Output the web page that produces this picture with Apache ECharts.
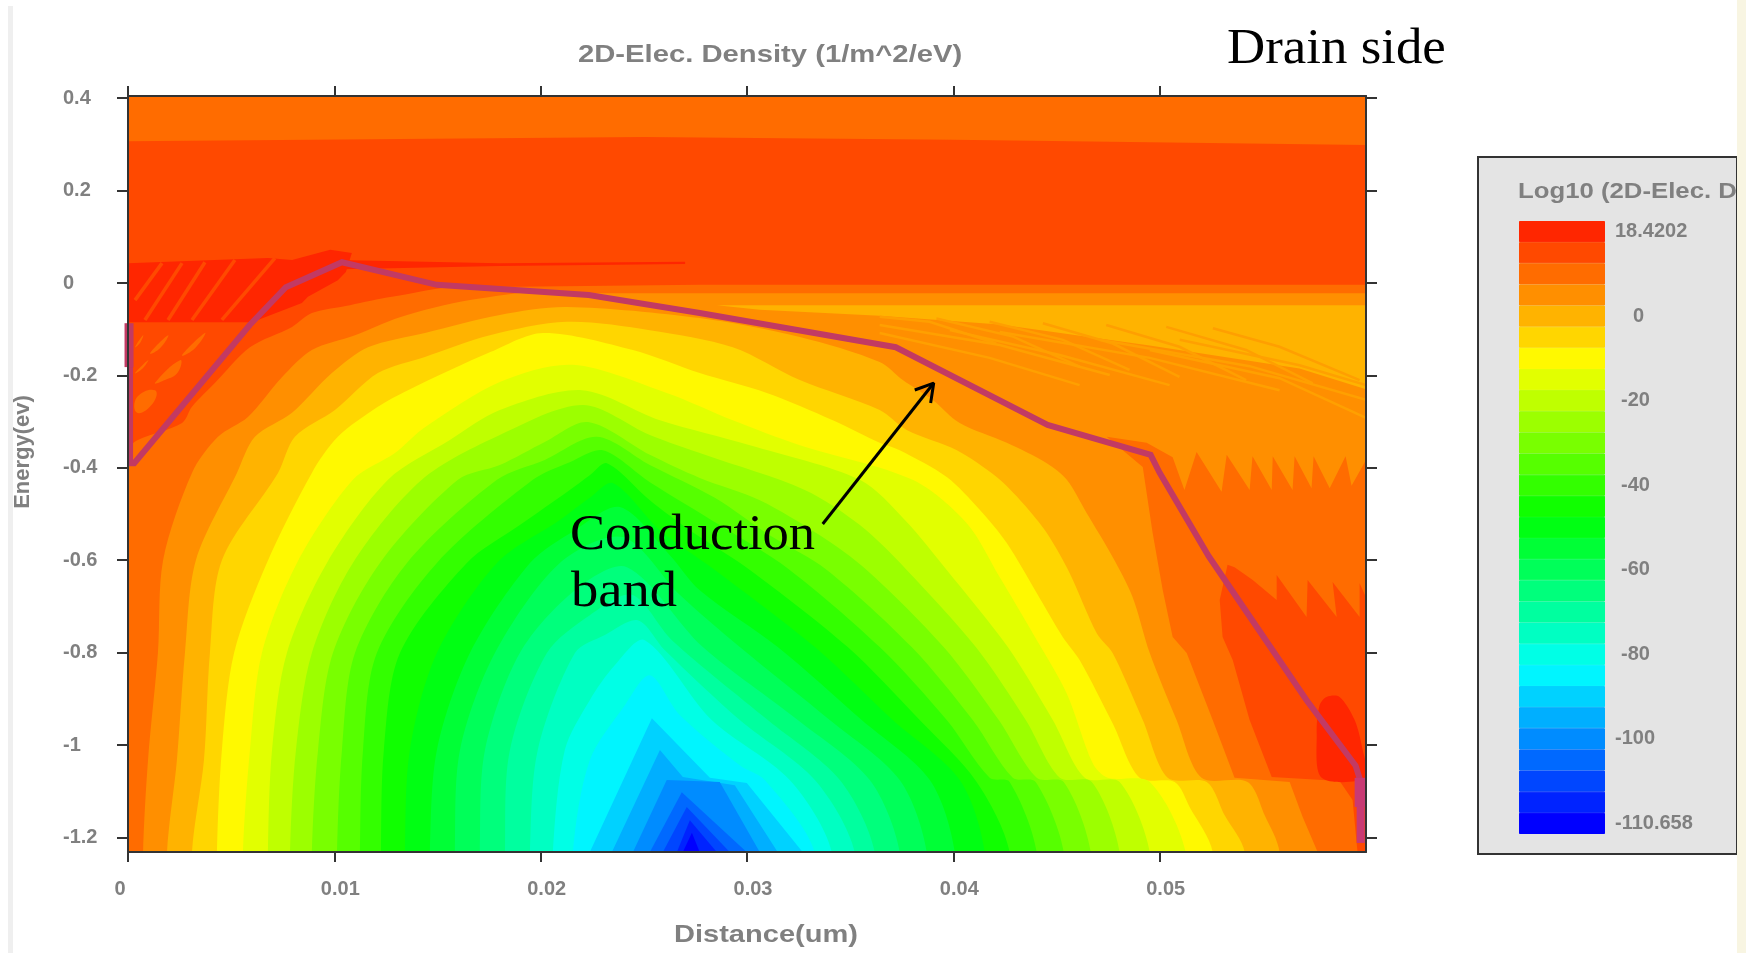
<!DOCTYPE html>
<html><head><meta charset="utf-8"><style>html,body{margin:0;padding:0;background:#fff}#c{width:1746px;height:953px}</style>
<script src="https://cdn.jsdelivr.net/npm/echarts@6/dist/echarts.min.js"></script></head><body><div id="c"></div>
<script>
const paletteColors=['#ff2600','#ff4900','#ff6c00','#ff8f00','#ffb300','#ffd600','#fff900','#e2ff00','#bfff00','#9cff00','#79ff00','#56ff00','#33ff00','#10ff00','#00ff13','#00ff36','#00ff59','#00ff7c','#00ff9f','#00ffc2','#00ffe6','#00f5ff','#00d2ff','#00afff','#008cff','#0069ff','#0046ff','#0023ff','#0000ff'];
const legendTickLabels=['18.4202','','','','0','','','','-20','','','','-40','','','','-60','','','','-80','','','','-100','','','','-110.658'];
const xTicks=[0,0.01,0.02,0.03,0.04,0.05];
const yTicks=[0.4,0.2,0,-0.2,-0.4,-0.6,-0.8,-1,-1.2];
// all points: [distance in nm, energy in eV]
const conductionBand=[[0.1,-.182],[0.1,-.39],[0.3,-.39],[5.9,-.091],[7.65,-.009],[10.37,.045],[14.97,-.004],[22.33,-.026],[27.71,-.065],[37.21,-.139],[44.57,-.307],[49.56,-.372],[50,-.411],[52.37,-.591],[57.12,-.903],[59.5,-1.045],[59.74,-1.08]];
const bandEndLeft=[[0.05,-.087],[0.05,-.182]];
const bandEndRight=[[59.74,-1.08],[59.74,-1.212]];
const bandEndRightWide=[[59.74,-1.071],[59.74,-1.134]];
const arrowShaft=[[33.67,-.5216],[39.05,-.2165]];
const arrowHead=[[38.13,-.2316],[39.05,-.2165],[38.9,-.2597]];
const plotArea=[[0,.4048],[60,.4048],[60,-1.2316],[0,-1.2316]];
const topStrip=[[0,.4048],[60,.4048],[60,.299],[40,.31],[25,.316],[0,.307]];
const level02Left=[[0,-1.45],[0,-.362],[.48,-.34],[2.62,-.303],[3.1,-.268],[4.22,-.216],[5.91,-.139],[7.95,-.095],[8.91,-.065],[10.76,-.048],[12.79,-.03],[16.57,-.009],[17.4,-.06],[17.4,-1.45]];
const level02Right=[[16.57,-1.232],[16.57,-.009],[27.71,-.004],[60,-.004],[60,-.68],[59.69,-.65],[59.69,-.723],[58.38,-.647],[58.58,-.723],[57.17,-.643],[57.12,-.723],[55.67,-.632],[55.67,-.686],[54.51,-.643],[53.63,-.615],[53.29,-.61],[52.91,-.686],[53.05,-.766],[53.54,-.816],[54.36,-.946],[55.43,-1.069],[58.72,-1.078],[59.35,-1.119],[59.59,-1.232]];
const redPatchLeft=[[0,-.085],[6.01,-.085],[8.43,-.043],[8.72,-.03],[10.17,.006],[10.56,.024],[10.85,.065],[9.8,.072],[7.95,.05],[6.78,.054],[0,.043]];
const redSliver=[[10.2,.05],[18,.043],[27,.046],[27,.041],[18,.037],[10.4,.03]];
const redPatchRight=[[57.85,-1.071],[57.61,-.974],[57.75,-.914],[58.09,-.896],[58.72,-.896],[59.45,-.946],[59.84,-1.011],[60,-1.071]];
const redStripes=[[[.34,-.037],[1.65,.043]],[[.82,-.08],[2.62,.043]],[[1.94,-.08],[3.73,.045]],[[3.1,-.08],[5.18,.05]],[[4.55,-.08],[7.12,.054]]];
const sourceBlobs=[[[.34,-.139],[.73,-.113],[.58,-.13]],[[1.07,-.152],[1.94,-.113],[1.55,-.141]],[[2.62,-.156],[3.73,-.108],[3.25,-.141]],[[.34,-.195],[.97,-.167],[.73,-.184]],[[1.31,-.216],[2.52,-.167],[2.42,-.193],[1.79,-.21]],[[.44,-.281],[.44,-.247],[1.31,-.232],[1.21,-.26]]];
const drainPatch=[[28.54,-.048],[60,-.048],[60,-.23],[56.78,-.185],[49.52,-.135],[42.25,-.09],[36.43,-.071],[30.62,-.058]];
const drainDarkStripes=[[[36.43,-.073],[38.85,-.084],[42.08,-.131]],[[39.18,-.077],[42.89,-.116],[46.12,-.181]],[[41.76,-.084],[45.31,-.123],[48.54,-.188]],[[44.34,-.087],[47.73,-.131],[50.96,-.203]],[[47.41,-.091],[50.96,-.138],[54.19,-.21]],[[50.32,-.095],[54.19,-.145],[57.42,-.217]],[[52.58,-.098],[55.81,-.138],[59.69,-.21]]];
const drainStripes=[[[36.43,-.091],[42.25,-.134],[47.58,-.199]],[[36.43,-.108],[41.76,-.162],[46.12,-.221]],[[39.83,-.102],[45.16,-.156],[50.48,-.221]],[[42.25,-.106],[49.52,-.162],[55.81,-.232]],[[47.09,-.123],[54.36,-.18],[60,-.253]],[[50.97,-.123],[56.78,-.178],[60,-.221]],[[49.52,-.145],[55.81,-.206],[60,-.292]]];
const level03Left=[[.73,-1.45],[.73,-1.232],[.97,-1.033],[1.45,-.801],[1.7,-.6],[3.1,-.411],[4.36,-.333],[5.81,-.29],[7.46,-.204],[8.91,-.145],[11,-.113],[13.18,-.074],[16.57,-.037],[20.93,-.022],[21.6,-.08],[21.6,-1.45]];
const level03Right=[[20.93,-1.232],[20.93,-.022],[60,-.022],[60,-.383],[59.3,-.439],[59.01,-.375],[58.24,-.444],[57.46,-.375],[57.36,-.444],[56.54,-.375],[56.44,-.448],[55.48,-.375],[55.43,-.448],[54.5,-.375],[54.36,-.448],[53.25,-.372],[53,-.452],[51.79,-.366],[51.2,-.448],[50.63,-.377],[49.37,-.346],[47.43,-.333],[49.18,-.398],[49.66,-.541],[50.15,-.665],[50.63,-.766],[51.31,-.801],[52.57,-.946],[53.63,-1.071],[56.3,-1.08],[56.93,-1.156],[57.66,-1.232]];
const level04=[[1.89,-1.232],[2.37,-1.033],[2.76,-.801],[3.29,-.6],[5.28,-.411],[6.15,-.333],[7.95,-.281],[9.88,-.195],[11.63,-.139],[14.39,-.108],[18.02,-.069],[21.27,-.052],[27.71,-.076],[32.56,-.117],[36.43,-.171],[37.55,-.21],[39,-.253],[40.31,-.303],[42.59,-.346],[44.53,-.39],[45.5,-.426],[46.46,-.498],[47.72,-.593],[48.69,-.68],[49.52,-.801],[50.82,-.946],[52.03,-1.071],[54.26,-1.08],[55.09,-1.152],[55.81,-1.232]];
const level05=[[3.1,-1.232],[3.68,-1.033],[3.97,-.801],[4.55,-.6],[7.27,-.411],[8.09,-.333],[10.03,-.275],[12.11,-.195],[14.39,-.16],[17.54,-.113],[21.27,-.084],[25.29,-.102],[29.31,-.139],[32.56,-.21],[36.43,-.275],[37.74,-.318],[40.17,-.362],[42.1,-.42],[43.36,-.476],[44.53,-.541],[45.64,-.628],[46.95,-.758],[47.72,-.801],[49.18,-.946],[50.39,-1.071],[52.28,-1.08],[53.15,-1.152],[54.12,-1.232]];
const level06=[[4.31,-1.232],[4.55,-1.011],[5.14,-.801],[6.73,-.606],[8.91,-.411],[10.17,-.333],[12.11,-.268],[13.57,-.232],[17.59,-.149],[20.11,-.108],[24.47,-.145],[27.71,-.195],[30.96,-.238],[34.16,-.297],[36.43,-.346],[37.4,-.362],[39.68,-.42],[41.28,-.491],[42.59,-.563],[44.04,-.671],[45.3,-.766],[46.12,-.816],[47.72,-.953],[49.03,-1.071],[50.73,-1.08],[51.45,-1.134],[52.57,-1.232]];
const level07=[[5.57,-1.232],[5.91,-1.011],[6.49,-.801],[8.19,-.606],[10.9,-.426],[12.94,-.368],[14.39,-.312],[18.02,-.214],[21.56,-.177],[26.11,-.238],[29.31,-.297],[32.56,-.351],[38.03,-.426],[40.65,-.52],[42.25,-.637],[43.85,-.758],[45.49,-.888],[46.75,-1.039],[47.48,-1.071],[49.52,-1.08],[51.26,-1.232]];
const level08=[[6.78,-1.232],[6.98,-1.011],[7.7,-.801],[9.64,-.606],[12.6,-.426],[15.6,-.34],[18.02,-.275],[22,-.232],[25.78,-.297],[30.14,-.351],[35.47,-.426],[37.65,-.513],[39.68,-.621],[42.64,-.788],[44.82,-.946],[46.37,-1.071],[48.06,-1.08],[49.52,-1.232]];
const level09=[[7.85,-1.232],[8.14,-1.011],[8.91,-.801],[10.9,-.606],[14.24,-.426],[18.02,-.329],[22.04,-.264],[25.29,-.329],[27.96,-.372],[32.8,-.448],[35.47,-.524],[37.74,-.621],[41.09,-.788],[43.51,-.946],[45.16,-1.071],[46.71,-1.08],[48.06,-1.232]];
const level10=[[8.91,-1.232],[9.21,-1.011],[9.93,-.801],[12.21,-.606],[15.99,-.426],[18.02,-.394],[20.2,-.344],[22.29,-.301],[25.29,-.372],[27.71,-.422],[30.62,-.47],[33.53,-.546],[35.8,-.621],[39.53,-.788],[42.2,-.946],[44.04,-1.071],[45.35,-1.08],[46.66,-1.232]];
const level11=[[10.13,-1.232],[10.37,-1.011],[11,-.801],[13.52,-.606],[17.88,-.426],[20.2,-.383],[22.72,-.333],[25.29,-.394],[28.44,-.465],[31.1,-.546],[33.87,-.621],[37.98,-.788],[40.94,-.946],[42.88,-1.071],[43.99,-1.08],[45.35,-1.232]];
const level12=[[11.24,-1.232],[11.39,-1.011],[12.06,-.801],[14.97,-.606],[19.62,-.426],[21.41,-.388],[23.01,-.362],[25.29,-.431],[28.68,-.524],[32.07,-.621],[36.43,-.788],[39.68,-.946],[41.76,-1.071],[42.73,-1.08],[44.04,-1.232]];
const level13=[[12.26,-1.232],[12.4,-1.011],[13.18,-.801],[16.42,-.606],[18.99,-.524],[21.41,-.448],[22.38,-.416],[23.21,-.39],[25.29,-.47],[27.23,-.535],[30.14,-.621],[34.88,-.788],[38.37,-.946],[41.13,-1.08],[42.73,-1.232]];
const level14=[[13.42,-1.232],[13.66,-1.011],[14.97,-.801],[17.88,-.606],[20.93,-.513],[22.38,-.465],[23.5,-.433],[25.78,-.535],[28.44,-.621],[33.29,-.788],[37.06,-.946],[40.31,-1.076],[41.52,-1.232]];
const level15=[[14.63,-1.232],[14.97,-1.011],[16.57,-.801],[19.48,-.606],[21.66,-.535],[23.84,-.485],[26.26,-.589],[27.71,-.665],[31.49,-.788],[35.56,-.946],[38.86,-1.076],[40.07,-1.232]];
const level16=[[15.84,-1.232],[16.09,-1.011],[17.78,-.801],[20.93,-.606],[23.98,-.55],[26.74,-.675],[29.65,-.788],[34.01,-.946],[37.4,-1.076],[38.71,-1.232]];
const level17=[[17.05,-1.232],[17.3,-1.011],[18.99,-.801],[21.66,-.665],[24.18,-.615],[27.86,-.788],[32.46,-.946],[35.95,-1.076],[37.4,-1.232]];
const level18=[[18.27,-1.232],[18.51,-1.011],[20.3,-.801],[22.38,-.719],[24.42,-.675],[26.36,-.773],[31.01,-.946],[34.5,-1.076],[36.19,-1.232]];
const level19=[[19.48,-1.232],[19.86,-1.011],[21.66,-.801],[23.11,-.762],[24.71,-.73],[26.02,-.795],[29.65,-.946],[33.29,-1.076],[35.22,-1.232]];
const level20=[[20.59,-1.232],[21.17,-1.011],[22.38,-.903],[23.6,-.827],[25.05,-.773],[28.29,-.946],[32.07,-1.076],[34.11,-1.232]];
const level21=[[21.56,-1.232],[22.38,-1.033],[24.08,-.914],[25.29,-.849],[26.74,-.935],[29.65,-1.044],[30.86,-1.076],[33.28,-1.232]];
const level22=[[22.38,-1.232],[25.39,-.942],[28.2,-1.071],[29.99,-1.082],[32.7,-1.232]];
const level23=[[23.45,-1.232],[25.78,-1.011],[26.89,-1.069],[29.41,-1.087],[31.49,-1.232]];
const level24=[[24.47,-1.232],[26.11,-1.076],[28.68,-1.08],[30.62,-1.232]];
const level25=[[25.29,-1.232],[26.84,-1.102],[29.99,-1.232]];
const level26=[[25.92,-1.232],[27.08,-1.134],[29.17,-1.232]];
const level27=[[26.6,-1.232],[27.23,-1.163],[28.54,-1.232]];
const level28=[[26.89,-1.232],[27.33,-1.19],[27.71,-1.232]];

const softLevels=[level04,level05,level06,level07,level08,level09,level10,level11,level12,level13,level14,level15,level16,level17,level18,level19,level20,level21];
const sharpLevels=[level22,level23,level24,level25,level26,level27,level28];
const below=-1.45;
const layers=[{p:plotArea,c:1},{p:topStrip,c:2},{p:level02Left,c:2,s:.3},{p:level02Right,c:2},{p:redPatchLeft,c:0},{p:redSliver,c:0}];
redStripes.forEach(s=>layers.push({p:s,col:paletteColors[1],w:3.5}));
sourceBlobs.forEach(b=>layers.push({p:b,c:2,s:.5}));
layers.push({p:level03Left,c:3,s:.3},{p:level03Right,c:3},{p:drainPatch,c:4});
drainDarkStripes.forEach(s=>layers.push({p:s,col:'#ff9f00',w:2.5}));
drainStripes.forEach(s=>layers.push({p:s,col:'#ffa000',w:2.5}));
softLevels.forEach((l,i)=>layers.push({p:[[l[0][0],below]].concat(l,[[l[l.length-1][0],below]]),c:i+4,s:.3}));
sharpLevels.forEach((l,i)=>layers.push({p:l,c:i+22}));
layers.push({p:redPatchRight,c:0,s:.3});

const toUm=a=>a.map(p=>[p[0]/1000,p[1]]);
const BAND='#c23a63', GREY='#808080', FONT='"Liberation Sans",Arial,sans-serif';
const labelStyle={fontFamily:FONT,fontWeight:'bold',fontSize:20,color:GREY};
const chart=echarts.init(document.getElementById('c'),null,{renderer:'canvas'});
const rich=(extra)=>Object.assign({},labelStyle,extra);
const wideText=(t,x,y,sx)=>({type:'text',x:x,y:y,scaleX:sx,z:20,style:{text:t,x:0,y:0,fontFamily:'"Liberation Serif",serif',fontSize:51,fill:'#000',textVerticalAlign:'middle'}});
const wideSans=(t,x,y,sx,size)=>({type:'text',x:x,y:y,scaleX:sx,z:3,style:{text:t,x:0,y:0,fontFamily:FONT,fontWeight:'bold',fontSize:size,fill:GREY,textVerticalAlign:'middle'}});
chart.setOption({
 animation:false,backgroundColor:'#fff',
 grid:[{left:128,top:96,width:1238,height:756},{left:1519,top:221,width:86,height:613}],
 xAxis:[
  {type:'value',gridIndex:0,min:0,max:0.06,position:'bottom',z:10,
   splitLine:{show:false},axisLine:{show:true,onZero:false,lineStyle:{color:'#333',width:2}},
   axisTick:{show:true,length:10,customValues:xTicks,lineStyle:{color:'#333',width:2}},
   axisLabel:{customValues:xTicks,margin:27,hideOverlap:false,formatter:v=>v===0?'{z|0}':'{n|'+v+'}',rich:{z:rich({padding:[0,16,0,0]}),n:rich({padding:[0,0,0,12]})}}},
  {type:'value',gridIndex:0,min:0,max:0.06,position:'top',z:10,splitLine:{show:false},axisLine:{show:true,onZero:false,lineStyle:{color:'#333',width:2}},
   axisTick:{show:true,length:10,customValues:xTicks,lineStyle:{color:'#333',width:2}},axisLabel:{show:false}},
  {type:'value',gridIndex:1,min:0,max:1,show:false}
 ],
 yAxis:[
  {type:'value',gridIndex:0,min:-1.2316,max:0.4048,position:'left',z:10,name:'Energy(ev)',nameLocation:'middle',nameGap:94,nameRotate:90,
   nameTextStyle:{fontFamily:FONT,fontWeight:'bold',fontSize:22,color:GREY,padding:[0,0,0,44]},
   splitLine:{show:false},axisLine:{show:true,onZero:false,lineStyle:{color:'#333',width:2}},
   axisTick:{show:true,length:11,customValues:yTicks,lineStyle:{color:'#333',width:2}},
   axisLabel:Object.assign({customValues:yTicks,align:'left',margin:65,hideOverlap:false},labelStyle)},
  {type:'value',gridIndex:0,min:-1.2316,max:0.4048,position:'right',z:10,splitLine:{show:false},axisLine:{show:true,onZero:false,lineStyle:{color:'#333',width:2}},
   axisTick:{show:true,length:11,customValues:yTicks,lineStyle:{color:'#333',width:2}},axisLabel:{show:false}},
  {type:'category',gridIndex:1,inverse:true,position:'right',data:legendTickLabels,axisLine:{show:false},axisTick:{show:false},
   axisLabel:{interval:3,margin:10,align:'left',formatter:v=>{if(v==='0')return '{z|0}';if(v==='18.4202'||v==='-100'||v==='-110.658')return '{f|'+v+'}';return '{m|'+v+'}';},
    rich:{z:rich({padding:[0,0,0,18]}),f:rich({}),m:rich({padding:[0,0,0,6]})}}}
 ],
 graphic:[
  {type:'rect',z:-5,shape:{x:8,y:6,width:5,height:947},style:{fill:'#efefef'}},
  {type:'rect',z:-5,shape:{x:1478,y:157,width:259,height:697},style:{fill:'#e4e4e4',stroke:'#333',lineWidth:2}},
  {type:'rect',z:-4,shape:{x:1737,y:0,width:9,height:953},style:{fill:'#f8f5e2'}},
  wideSans('2D-Elec. Density (1/m^2/eV)',578,55,1.218,24),
  wideSans('Distance(um)',674,935,1.21,24),
  wideSans('Log10 (2D-Elec. D',1518,192,1.17,22),
  wideText('Drain side',1227,50,1.037),wideText('Conduction',570,536,1.03),wideText('band',571,593,1.07)
 ],
 series:[
  {type:'custom',xAxisIndex:0,yAxisIndex:0,clip:true,silent:true,z:2,data:layers.map((l,i)=>[i,0]),
   renderItem:(params,api)=>{const l=layers[params.dataIndex];const pts=toUm(l.p).map(p=>api.coord(p));
    return l.w?{type:'polyline',shape:{points:pts},style:{stroke:l.col,lineWidth:l.w,fill:null}}
              :{type:'polygon',shape:{points:pts,smooth:l.s||0},style:{fill:paletteColors[l.c]}};}},
  {type:'line',xAxisIndex:0,yAxisIndex:0,z:5,clip:false,showSymbol:false,silent:true,data:toUm(conductionBand),lineStyle:{color:BAND,width:6,join:'miter'}},
  {type:'line',xAxisIndex:0,yAxisIndex:0,z:5,clip:false,showSymbol:false,silent:true,data:toUm(bandEndLeft),lineStyle:{color:BAND,width:9,cap:'butt'}},
  {type:'line',xAxisIndex:0,yAxisIndex:0,z:5,clip:false,showSymbol:false,silent:true,data:toUm(bandEndRight),lineStyle:{color:'#c83a74',width:8,cap:'butt'}},
  {type:'line',xAxisIndex:0,yAxisIndex:0,z:5,clip:false,showSymbol:false,silent:true,data:toUm(bandEndRightWide),lineStyle:{color:'#c83a74',width:12,cap:'butt'}},
  {type:'line',xAxisIndex:0,yAxisIndex:0,z:6,showSymbol:false,silent:true,data:toUm(arrowShaft),lineStyle:{color:'#000',width:3}},
  {type:'line',xAxisIndex:0,yAxisIndex:0,z:6,showSymbol:false,silent:true,data:toUm(arrowHead),lineStyle:{color:'#000',width:3}},
  {type:'bar',xAxisIndex:2,yAxisIndex:2,barWidth:'100%',silent:true,data:paletteColors.map(c=>({value:1,itemStyle:{color:c,borderColor:c,borderWidth:1}}))}
 ]
});
</script></body></html>
